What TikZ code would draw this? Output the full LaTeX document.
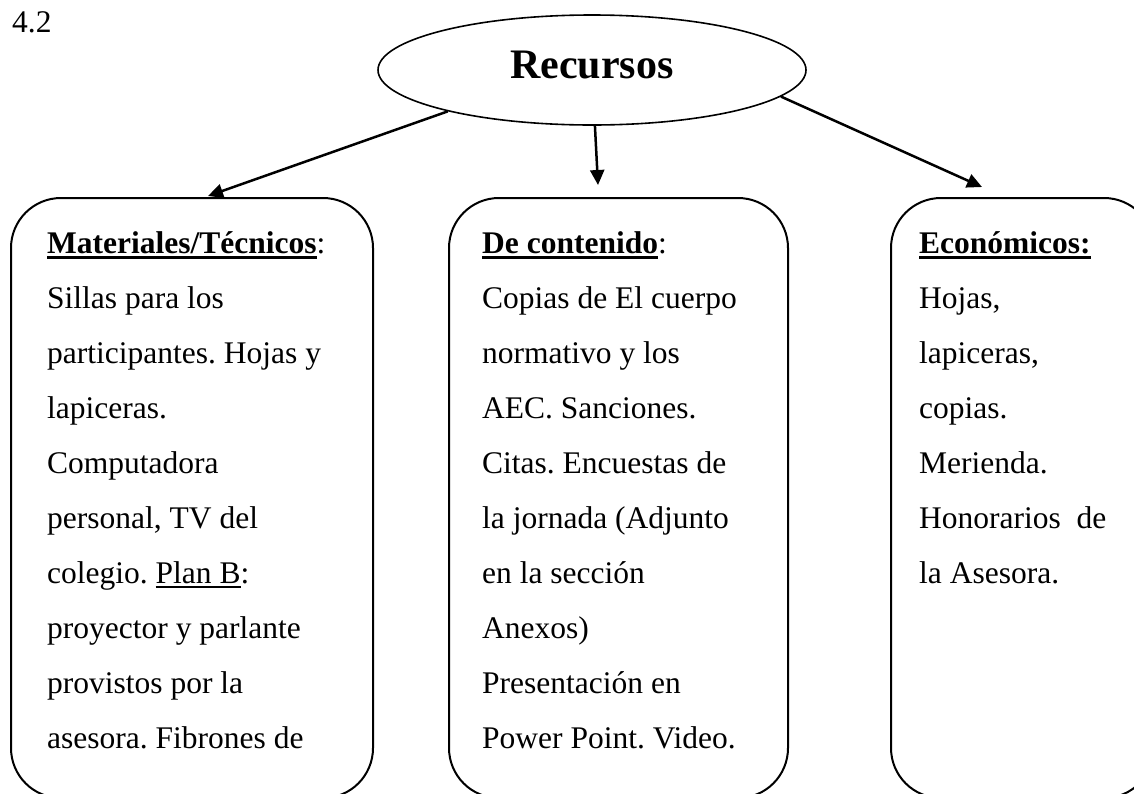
\documentclass[tikz,border=0pt]{standalone}
\usepackage{fontspec}
\setmainfont{Liberation Serif}
\usetikzlibrary{arrows.meta}
\usetikzlibrary{math}
\usetikzlibrary{shapes.geometric}

\frenchspacing
\newsavebox{\ulinebox}
\newcommand{\ulbold}[1]{\sbox{\ulinebox}{\bfseries #1}\rlap{\rule[-6pt]{\wd\ulinebox}{3pt}}\usebox{\ulinebox}}
\newcommand{\ulplain}[1]{\sbox{\ulinebox}{#1}\rlap{\rule[-5pt]{\wd\ulinebox}{2pt}}\usebox{\ulinebox}}

\begin{document}
\begin{tikzpicture}[x=1pt,y=-1pt]
	\tikzset{
		bodyline/.style={anchor=base west,inner sep=0,font=\fontsize{31.5}{55}\selectfont},
		%
		colbox/.style={draw,line width=2pt,rounded corners=50pt,anchor=north west,minimum height=600pt,inner sep=0},
		topoval/.style={ellipse,draw,line width=1.6pt,minimum width=428pt,minimum height=110pt,inner sep=0,
			font=\bfseries\fontsize{42}{44}\selectfont,text height=28pt,text depth=12pt},
		%
		link/.style={line width=2.5pt,-{Triangle[length=15pt,width=14pt]}}
	}
	
	\tikzmath{\linestep = 55; \firstbase = 198;}
	
	\useasboundingbox (0,0) rectangle (1134,793);
	\clip (0,0) rectangle (1134,793);
	
	\node[bodyline] (num) at (12,32) {4.2};
	
	\node[topoval] (rec) at (592,70) {Recursos};
	
	\node[colbox,minimum width=362pt] (mat) at (10,197) {};
	\node[colbox,minimum width=339pt] (con) at (448,197) {};
	\node[colbox,minimum width=263pt] (eco) at (890,197) {};
	
	\coordinate (tipmat) at (208,196);
	\coordinate (tipcon) at (598,185);
	\coordinate (tipeco) at (982,187);
	
	\draw[link] (rec.196) -- (tipmat);
	\draw[link] (rec.-87) -- (tipcon);
	\draw[link] (rec.-8) -- (tipeco);
	
	\foreach \ln [count=\i] in {{\ulbold{Materiales/Técnicos}:}, {Sillas para los}, {participantes. Hojas y},
		{lapiceras.}, {Computadora}, {personal, TV del}, {colegio. \ulplain{Plan B}:},
		{proyector y parlante}, {provistos por la}, {asesora. Fibrones de}}{
		\node[bodyline] (mat\i) at (47,\firstbase+\linestep*\i) {\ln};
	}
	
	\foreach \ln [count=\i] in {{\ulbold{De contenido}:}, {Copias de El cuerpo}, {normativo y los},
		{AEC. Sanciones.}, {Citas. Encuestas de}, {la jornada (Adjunto}, {en la sección},
		{Anexos)}, {Presentación en}, {Power Point. Video.}}{
		\node[bodyline] (con\i) at (482,\firstbase+\linestep*\i) {\ln};
	}
	
	\foreach \ln [count=\i] in {{\ulbold{Económicos:}}, {Hojas,}, {lapiceras,}, {copias.},
		{Merienda.}, {Honorarios\ \ de}, {la Asesora.}}{
		\node[bodyline] (eco\i) at (919,\firstbase+\linestep*\i) {\ln};
	}
\end{tikzpicture}
\end{document}
